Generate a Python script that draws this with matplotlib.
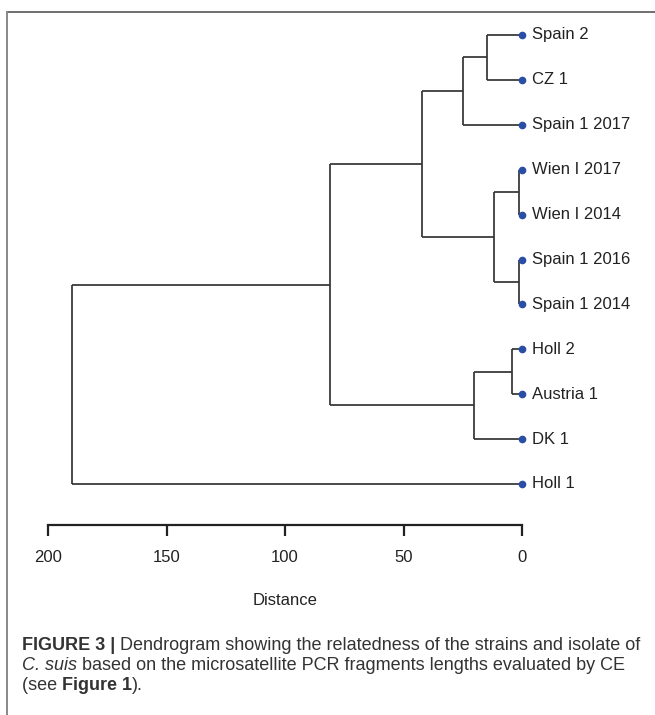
import matplotlib
matplotlib.use("Agg")
import matplotlib.pyplot as plt
from matplotlib.lines import Line2D

plt.rcParams["font.family"] = ["Liberation Sans", "DejaVu Sans"]

# leaves, top to bottom
labels = ["Spain 2", "CZ 1", "Spain 1 2017", "Wien I 2017", "Wien I 2014",
          "Spain 1 2016", "Spain 1 2014", "Holl 2", "Austria 1", "DK 1", "Holl 1"]
# merges like a linkage table: new cluster ids start at len(labels)
merges = [(3, 4), (5, 6), (7, 8), (0, 1), (11, 12), (13, 9), (14, 2),
          (17, 15), (18, 16), (19, 10)]
heights = [1.3, 1.3, 4.4, 14.8, 11.8, 20.3, 25.0, 42.0, 81.0, 190.0]
ticks = [200, 150, 100, 50, 0]

W, H = 655, 715
fig = plt.figure(figsize=(W / 100, H / 100), dpi=100)

# axes placed in pixel terms
x0, x1 = 48, 522
y_top, y_axis, y_last = 35, 525, 484
step = (y_last - y_top) / (len(labels) - 1)
ax = fig.add_axes([x0 / W, 1 - y_axis / H, (x1 - x0) / W, (y_axis - y_top) / H])
n = len(labels)
ax.set_xlim(200, 0)
ax.set_ylim(-(y_axis - y_last) / step, n - 1)

line_kw = dict(color="#333333", lw=1.25, solid_capstyle="butt", clip_on=False)

pos = {}
hgt = {}
for i in range(n):
    pos[i] = n - 1 - i
    hgt[i] = 0.0
for k, ((a, b), h) in enumerate(zip(merges, heights)):
    c = n + k
    for child in (a, b):
        ax.plot([hgt[child], h], [pos[child], pos[child]], **line_kw)
    ax.plot([h, h], [pos[a], pos[b]], **line_kw)
    pos[c] = (pos[a] + pos[b]) / 2
    hgt[c] = h

ax.plot([0] * n, [pos[i] for i in range(n)], "o", color="#2a4ea6",
        markersize=4.5, clip_on=False, zorder=3)
for i, lab in enumerate(labels):
    ax.annotate(lab, (0, pos[i]), xytext=(7, 0), textcoords="offset points",
                va="center", ha="left", fontsize=12, color="#222222")

for s in ["top", "right", "left"]:
    ax.spines[s].set_visible(False)
ax.spines["bottom"].set_linewidth(1.6)
ax.spines["bottom"].set_color("#222222")
ax.set_yticks([])
ax.set_xticks(ticks)
ax.set_xticklabels([str(t) for t in ticks])
ax.tick_params(axis="x", direction="out", length=8, width=1.6, pad=10,
               labelsize=12, colors="#222222")
ax.set_xlabel("Distance", fontsize=12, labelpad=20, color="#222222")
ax.patch.set_visible(False)

# frame of the figure panel
fig.add_artist(Line2D([7 / W, 1], [1 - 12 / H, 1 - 12 / H], transform=fig.transFigure,
                      color="#555555", lw=1.2))
fig.add_artist(Line2D([7 / W, 7 / W], [1 - 12 / H, 0], transform=fig.transFigure,
                      color="#888888", lw=1.4))

# caption, built piece by piece
caption = [
    [("FIGURE 3 |", "bold", "normal"),
     (" Dendrogram showing the relatedness of the strains and isolate of", "normal", "normal")],
    [("C. suis", "normal", "italic"),
     (" based on the microsatellite PCR fragments lengths evaluated by CE", "normal", "normal")],
    [("(see ", "normal", "normal"), ("Figure 1", "bold", "normal"), (").", "normal", "normal")],
]
cap_y = [646, 666, 686]
renderer = fig.canvas.get_renderer()
for line, yy in zip(caption, cap_y):
    xx = 22
    for txt, wt, st in line:
        t = fig.text(xx / W, 1 - yy / H, txt, fontsize=13, fontweight=wt, fontstyle=st,
                     va="center", ha="left", color="#333333")
        bb = t.get_window_extent(renderer=renderer)
        xx = bb.x1

fig.savefig("out.png", dpi=100)
